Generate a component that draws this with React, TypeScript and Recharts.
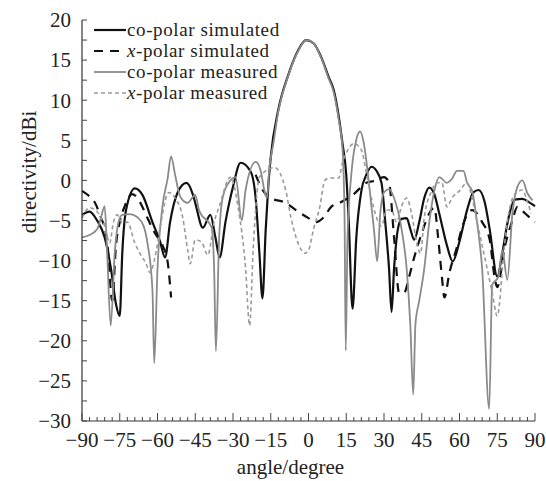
import { LineChart, Line, XAxis, YAxis, Legend, Label } from 'recharts';

// co-polar simulated
const coSimAngle = [-90, -87, -84, -81, -78.5, -76.5, -75, -74, -72.5, -69, -66, -62, -59, -57, -55, -52, -48.5, -46, -45, -42, -39, -37, -35.3, -33, -30, -27, -23, -21, -19.5, -18.3, -17, -16, -15, -12, -8, -4, -1, 2, 5, 8, 10, 12, 13.5, 15, 16, 17.5, 19, 21, 23, 25, 27, 29, 30.5, 32, 33, 34, 35.5, 37, 39, 40.5, 42, 44, 46, 48, 50, 52, 55, 57.3, 60, 63, 65.5, 67.6, 70, 72, 75, 77, 79, 82, 85, 88, 90];
const coSimValue = [-4.3, -3.9, -5.0, -7.1, -11.0, -15.4, -16.9, -9.1, -3.7, -1.0, -1.8, -5.2, -7.6, -9.6, -5.2, -1.5, -0.3, -1.7, -2.8, -5.9, -4.3, -7.1, -9.6, -5.2, -0.8, 2.2, 1.1, -2.2, -9.1, -14.7, -6.1, -0.8, 2.9, 8.8, 13.2, 16.3, 17.5, 17.1, 15.4, 12.9, 11.3, 8.0, 4.6, 0.7, -5.2, -16.0, -7.1, -1.3, 0.7, 1.7, 1.2, -0.3, -5.2, -11.0, -16.4, -11.0, -6.1, -4.8, -4.7, -6.1, -7.4, -5.2, -2.2, -0.9, -1.7, -4.2, -8.1, -10.1, -7.6, -3.7, -1.5, -1.2, -2.7, -6.1, -12.0, -9.1, -5.4, -2.4, -2.3, -2.8, -3.2];

// x-polar simulated (no data between about -54 and -21)
const xSimAngle = [-90, -87, -85, -83, -80, -78, -76.5, -75, -73, -70, -67, -64, -61, -58, -56, -54.6, -40, -21, -18, -15, -9, -5, 0, 3, 6, 9, 13, 18, 23, 27, 30, 32, 34, 36, 38, 40, 42, 45, 48, 50, 51.5, 53, 54, 56, 59, 61, 65, 69, 72, 74, 75, 78, 81, 83, 86, 90];
const xSimValue = [-1.3, -2.0, -2.7, -4.2, -7.6, -15.0, -8.1, -5.2, -3.2, -1.7, -2.7, -4.7, -6.6, -8.1, -10.1, -14.6, null, 0.7, -1.3, -2.2, -2.8, -3.7, -4.7, -5.2, -4.6, -3.3, -2.7, -1.7, -0.3, 0.0, 0.4, -0.3, -7.1, -14.0, -14.0, -12.0, -9.6, -6.6, -4.1, -3.4, -7.1, -12.0, -14.6, -11.5, -8.3, -5.9, -3.7, -5.2, -7.4, -12.2, -13.3, -8.3, -5.0, -3.3, -4.1, -5.2];

// co-polar measured
const coMeasAngle = [-90, -87, -84, -82.5, -81, -80, -78.6, -77, -75.5, -74, -71, -68, -65.5, -64, -62, -61.3, -60, -58, -56, -54.6, -53, -51, -48, -45, -43.5, -38.5, -37.5, -36.8, -35.5, -34, -31, -29, -26.5, -25, -21, -19, -17.5, -16.5, -15.5, -14, -12, -8, -4, -1, 2, 5, 8, 10, 12, 13.5, 14.3, 14.8, 15.5, 17, 19, 20.5, 22, 24, 26, 27.3, 28.5, 30, 32, 34, 37, 39, 40.5, 41.6, 42.5, 44, 46, 48, 50, 52, 55, 57, 59, 61.6, 63, 65, 67, 69, 71.8, 73, 75.5, 77, 79, 81, 83, 85, 87, 89];
const coMeasValue = [-7.1, -6.8, -6.1, -4.7, -3.2, -9.1, -18.1, -9.1, -5.2, -4.3, -4.2, -4.6, -5.7, -7.8, -13.7, -22.8, -11.0, -3.2, 0.2, 3.0, 0.7, -2.0, -2.8, -1.8, -3.7, -5.9, -11.0, -21.3, -7.1, -2.0, 0.0, 0.4, -5.0, -1.2, 2.3, 1.2, -1.3, -2.2, 1.7, 4.5, 8.6, 13.1, 16.2, 17.5, 17.1, 15.3, 12.7, 11.0, 7.6, 4.0, -4.0, -21.2, -7.1, 0.7, 5.1, 6.1, 4.6, -0.3, -6.1, -10.1, -4.2, -1.5, -1.1, -2.2, -6.1, -11.0, -18.3, -26.7, -17.9, -15.0, -11.0, -5.2, -1.3, 0.4, -0.3, 0.2, 1.2, 1.2, -0.3, -1.3, -5.3, -11.0, -28.5, -13.0, -12.0, -8.7, -12.4, -4.2, -0.8, 0.0, -1.6, -2.5];

// x-polar measured
const xMeasAngle = [-90, -87, -84, -81, -79, -77.5, -76, -74, -72, -69, -67, -64.5, -63, -61, -59, -55.5, -53, -50, -48, -47, -45, -42.5, -40, -37.5, -35.5, -31, -28, -25, -23.4, -22, -19.5, -13.5, -9, -7, -3, -1.5, 0, 2, 4.5, 6.5, 8.5, 12, 13.5, 16, 18, 21, 23, 25, 27, 29, 31, 33, 35, 37, 39, 41, 43, 44.5, 46, 49, 51, 53, 55, 57, 60, 63, 65, 67, 69, 71, 73, 75, 76, 77, 79, 82, 85, 87, 88.5];
const xMeasValue = [-4.7, -3.4, -3.9, -5.7, -7.8, -5.2, -4.3, -5.3, -5.2, -7.8, -9.1, -10.4, -11.5, -9.6, -5.9, -1.5, -2.2, -4.6, -8.7, -10.4, -7.4, -7.7, -9.3, -5.2, -3.3, 0.4, -3.3, -11.0, -18.1, -8.7, 0.4, 1.6, -1.3, -4.6, -8.6, -9.1, -8.7, -6.1, -3.3, 0.0, 0.3, 0.3, 2.2, 4.0, 4.6, 3.8, 0.9, -2.2, -4.6, -5.7, -3.7, -3.7, -5.2, -3.2, -2.2, -4.2, -7.8, -9.1, -4.6, -1.3, -0.3, -0.3, -3.3, -2.2, -1.3, -0.3, -2.2, -5.2, -8.1, -11.0, -14.0, -16.9, -15.0, -11.0, -5.2, -1.7, -1.2, -2.7, -4.1];

const yTicks = Array.from({ length: 21 }, (_, i) => -30 + i * 2.5);
const xTicks = Array.from({ length: 61 }, (_, i) => -90 + i * 3);

const toPoints = (angles: number[], values: (number | null)[]) =>
  angles.map((a, i) => ({ a, v: values[i] }));

const series = [
  { name: 'co-polar simulated', prefix: 'co', rest: '-polar simulated', data: toPoints(coSimAngle, coSimValue), color: '#111', width: 2.2, dash: undefined },
  { name: 'x-polar simulated', prefix: 'x', rest: '-polar simulated', data: toPoints(xSimAngle, xSimValue), color: '#111', width: 2.2, dash: '9 7' },
  { name: 'co-polar measured', prefix: 'co', rest: '-polar measured', data: toPoints(coMeasAngle, coMeasValue), color: '#8a8a8a', width: 1.8, dash: undefined },
  { name: 'x-polar measured', prefix: 'x', rest: '-polar measured', data: toPoints(xMeasAngle, xMeasValue), color: '#9a9a9a', width: 1.6, dash: '4 3' },
];

const FONT = '"Liberation Serif", "Times New Roman", serif';
const FS = 21;
const fmt = (v: number) => (v < 0 ? `\u2212${Math.abs(v)}` : `${v}`);

const YTick = (props: any) => {
  const { x, y, payload } = props;
  const v = payload.value;
  return (
    <g>
      <line x1={x} x2={x + 5} y1={y} y2={y} stroke="#444" strokeWidth={1} />
      {v % 5 === 0 && (
        <text x={x - 11} y={y} dy="0.35em" textAnchor="end" fontSize={FS} fontFamily={FONT} fill="#222">
          {fmt(v)}
        </text>
      )}
    </g>
  );
};

const XTick = (props: any) => {
  const { x, y, payload } = props;
  const v = payload.value;
  const major = v % 15 === 0;
  return (
    <g>
      <line x1={x} x2={x} y1={y} y2={y - (major ? 8 : 4)} stroke="#444" strokeWidth={1} />
      {major && (
        <text x={x} y={y + 26} textAnchor="middle" fontSize={FS} fontFamily={FONT} fill="#222">
          {fmt(v)}
        </text>
      )}
    </g>
  );
};

const LegendBox = () => (
  <div style={{ fontFamily: FONT, fontSize: 19, letterSpacing: '0.6px', color: '#222' }}>
    {series.map((s) => (
      <div key={s.name} style={{ display: 'flex', alignItems: 'center', height: 21, lineHeight: '21px', whiteSpace: 'nowrap' }}>
        <svg width={34} height={10} style={{ marginRight: 0 }}>
          <line x1={1} x2={33} y1={5} y2={5} stroke={s.color} strokeWidth={s.width} strokeDasharray={s.dash} />
        </svg>
        <span>
          {s.prefix === 'x' ? <i>x</i> : s.prefix}
          {s.rest}
        </span>
      </div>
    ))}
  </div>
);

export default function App() {
  return (
    <div style={{ position: 'absolute', left: 0, top: 0, background: '#fff' }}>
      <LineChart width={546} height={481} margin={{ top: 20, right: 11, bottom: 20, left: 20 }}>
        <XAxis
          type="number"
          dataKey="a"
          domain={[-90, 90]}
          ticks={xTicks}
          interval={0}
          tickSize={0}
          tickMargin={0}
          tick={<XTick />}
          stroke="#333"
          strokeWidth={1.2}
          height={40}
          allowDuplicatedCategory={false}
        >
          <Label
            content={({ viewBox }: any) => (
              <text x={viewBox.x + viewBox.width / 2 - 18} y={viewBox.y + 53} textAnchor="middle" fontSize={FS} fontFamily={FONT} fill="#222">
                angle/degree
              </text>
            )}
          />
        </XAxis>
        <YAxis
          type="number"
          domain={[-30, 20]}
          ticks={yTicks}
          interval={0}
          tickSize={0}
          tickMargin={0}
          tick={<YTick />}
          stroke="#333"
          strokeWidth={1.2}
          width={62}
        >
          <Label
            content={({ viewBox }: any) => {
              const cx = viewBox.x + 9;
              const cy = viewBox.y + 152;
              return (
                <text x={cx} y={cy} transform={`rotate(-90 ${cx} ${cy})`} textAnchor="middle" dominantBaseline="central" fontSize={FS} fontFamily={FONT} fill="#222">
                  directivity/dBi
                </text>
              );
            }}
          />
        </YAxis>
        <Legend
          layout="vertical"
          align="center"
          verticalAlign="middle"
          content={<LegendBox />}
          wrapperStyle={{ top: 19, left: 93, width: 'auto', height: 'auto' }}
        />
        {series.map((s) => (
          <Line
            key={s.name}
            name={s.name}
            data={s.data}
            dataKey="v"
            type="monotone"
            stroke={s.color}
            strokeWidth={s.width}
            strokeDasharray={s.dash}
            dot={false}
            activeDot={false}
            isAnimationActive={false}
          />
        ))}
      </LineChart>
    </div>
  );
}
